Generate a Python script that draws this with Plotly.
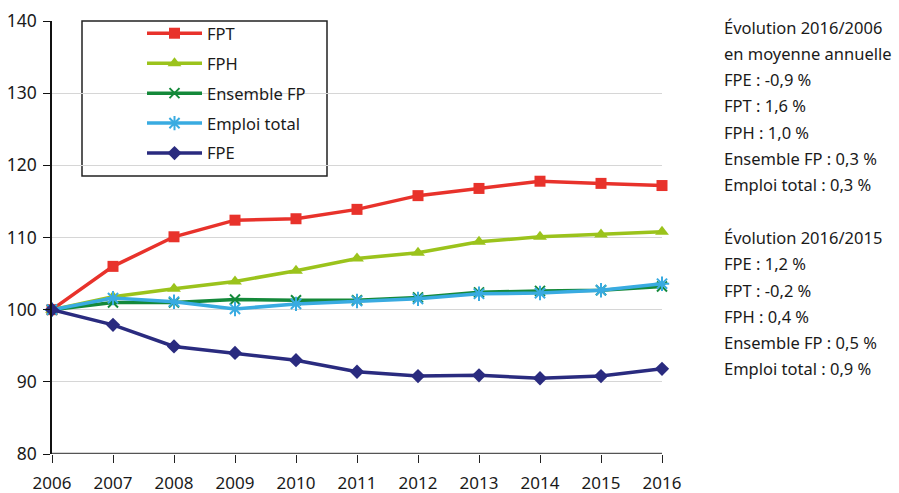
import plotly.graph_objects as go

years = [2006, 2007, 2008, 2009, 2010, 2011, 2012, 2013, 2014, 2015, 2016]
fpt = [100, 106.0, 110.1, 112.4, 112.6, 113.9, 115.8, 116.8, 117.8, 117.5, 117.2]
fph = [100, 101.8, 102.9, 103.9, 105.4, 107.1, 107.9, 109.4, 110.1, 110.4, 110.8]
ens = [100, 101.0, 101.0, 101.4, 101.3, 101.3, 101.7, 102.4, 102.6, 102.7, 103.2]
emp = [100, 101.6, 101.1, 100.1, 100.8, 101.2, 101.5, 102.2, 102.3, 102.7, 103.6]
fpe = [100, 97.9, 94.9, 94.0, 93.0, 91.4, 90.8, 90.9, 90.5, 90.8, 91.8]

series = [
    ("FPT", fpt, "#E8322B", "square", 11),
    ("FPH", fph, "#9BC31C", "triangle-up", 12),
    ("Ensemble FP", ens, "#14893A", "x-thin-open", 10),
    ("Emploi total", emp, "#39ABE1", "asterisk-open", 12),
    ("FPE", fpe, "#2A2B7F", "diamond", 11),
]

notes = [
    "Évolution 2016/2006", "en moyenne annuelle", "FPE : -0,9 %", "FPT : 1,6 %",
    "FPH : 1,0 %", "Ensemble FP : 0,3 %", "Emploi total : 0,3 %", "",
    "Évolution 2016/2015", "FPE : 1,2 %", "FPT : -0,2 %", "FPH : 0,4 %",
    "Ensemble FP : 0,5 %", "Emploi total : 0,9 %",
]

FONT = "Noto Sans"
L, R, T, B = 52, 237, 21, 39
PW, PH = 899 - L - R, 493 - T - B

fig = go.Figure()
for i, (name, vals, col, sym, sz) in enumerate(series):
    fig.add_trace(go.Scatter(
        x=years, y=vals, name=name, mode="lines+markers",
        line=dict(color=col, width=3.5),
        marker=dict(symbol=sym, size=sz, color=col, line=dict(color=col, width=2 if "open" in sym else 0)),
        cliponaxis=False, legendgroup=f"g{i}",
    ))

fig.update_layout(
    width=899, height=493,
    margin=dict(l=L, r=R, t=T, b=B, autoexpand=False),
    plot_bgcolor="white", paper_bgcolor="white",
    font=dict(family=FONT, size=16, color="#1a1a1a"),
    showlegend=True,
    legend=dict(x=(142 - L) / PW, y=1 + 5 / PH, xanchor="left", yanchor="top",
                bgcolor="rgba(0,0,0,0)", borderwidth=0,
                font=dict(family=FONT, size=16.5, color="#1a1a1a"),
                tracegroupgap=5.5, itemwidth=55, traceorder="grouped"),
    xaxis=dict(range=[2006, 2016], tickvals=years, ticktext=[str(y) for y in years],
               showgrid=False, zeroline=False, showline=False, automargin=False,
               ticks="outside", ticklen=8, tickcolor="#222", tickwidth=1,
               ticklabelstandoff=6,
               tickfont=dict(size=17), fixedrange=True),
    yaxis=dict(range=[80, 140], tickvals=[80, 90, 100, 110, 120, 130, 140],
               showgrid=True, gridcolor="#d6d6d6", gridwidth=1, zeroline=False,
               showline=True, linecolor="#111", linewidth=1.5, automargin=False,
               ticks="outside", ticklen=7, tickcolor="#111",
               ticklabelstandoff=3,
               tickfont=dict(size=17.5)),
)

# x axis baseline (dark gray)
fig.add_shape(type="line", xref="paper", yref="y", x0=0, x1=1, y0=80, y1=80,
              line=dict(color="#555555", width=2.5), layer="above")
# legend frame
fig.add_shape(type="rect", xref="paper", yref="paper",
              x0=(82 - L) / PW, x1=(327 - L) / PW,
              y0=1 - (176 - T) / PH, y1=1,
              line=dict(color="#222", width=1.5), fillcolor="white", layer="below")

for i, t in enumerate(notes):
    if not t:
        continue
    fig.add_annotation(text=t, xref="paper", yref="paper", showarrow=False,
                       x=(722 - L) / PW, xanchor="left",
                       y=1 - (27 + i * 26.3 - T) / PH, yanchor="middle",
                       font=dict(family=FONT, size=16.5, color="#1a1a1a"))

fig.write_html("out.html", config={"displayModeBar": False},
               post_script="document.body.style.margin='0';document.body.style.overflow='hidden';")
